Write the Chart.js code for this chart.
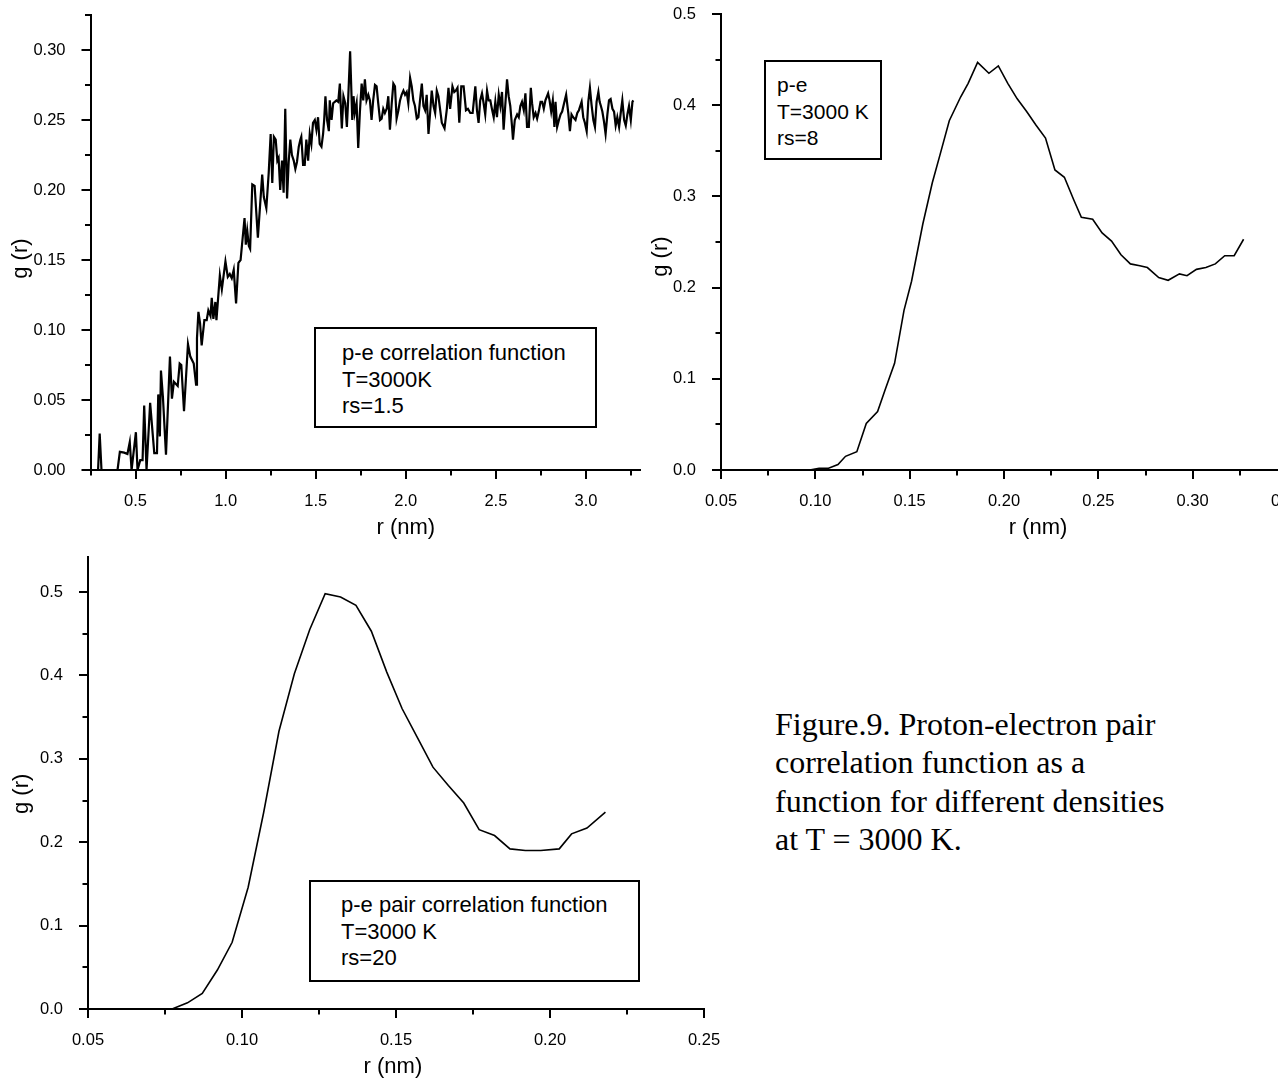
<!DOCTYPE html>
<html>
<head>
<meta charset="utf-8">
<title>p-e pair correlation function</title>
<script src="https://cdn.jsdelivr.net/npm/chart.js@4.4.1/dist/chart.umd.min.js"></script>
<style>
  html, body { margin: 0; padding: 0; background: #fff; }
  #page { position: relative; width: 1278px; height: 1078px; overflow: hidden; background: #fff; }
  canvas { position: absolute; }
  .note {
    position: absolute; box-sizing: border-box; border: 2px solid #000; background: #fff;
    font-family: "Liberation Sans", Arial, sans-serif; font-size: 22px; line-height: 26.5px;
    color: #000; white-space: nowrap;
  }
  #caption {
    position: absolute; left: 775px; top: 705px;
    font-family: "Liberation Serif", "Times New Roman", serif; font-size: 32px; line-height: 38.3px;
    color: #000; white-space: nowrap;
  }
</style>
</head>
<body>
<div id="page">
  <canvas id="plot-rs15" width="660" height="550" style="left:0;top:0"></canvas>
  <canvas id="plot-rs8" width="680" height="550" style="left:640px;top:0"></canvas>
  <canvas id="plot-rs20" width="740" height="538" style="left:0;top:540px"></canvas>

  <div class="note" style="left:314px;top:327px;width:283px;height:101px;padding:11px 0 0 26px">p-e correlation function<br>T=3000K<br>rs=1.5</div>
  <div class="note" style="left:764px;top:60px;width:118px;height:100px;padding:10px 0 0 11px;font-size:21px">p-e<br>T=3000 K<br>rs=8</div>
  <div class="note" style="left:309px;top:880px;width:331px;height:102px;padding:10px 0 0 30px">p-e pair correlation function<br>T=3000 K<br>rs=20</div>

  <div id="caption">Figure.9. Proton-electron pair<br>correlation function as a<br>function for different densities<br>at T = 3000 K.</div>
</div>

<script>
// rs = 1.5 : r (nm) and g(r)
const r15 = [
  0.250, 0.292, 0.301, 0.311, 0.400, 0.413, 0.437, 0.455, 0.468, 0.478,
  0.502, 0.511, 0.526, 0.539, 0.548, 0.561, 0.581, 0.604, 0.619, 0.626,
  0.635, 0.641, 0.652, 0.669, 0.691, 0.702, 0.713, 0.734, 0.745, 0.754,
  0.769, 0.791, 0.804, 0.823, 0.836, 0.841, 0.849, 0.858, 0.867, 0.882,
  0.895, 0.904, 0.916, 0.923, 0.932, 0.943, 0.949, 0.968, 0.979, 0.999,
  1.012, 1.023, 1.034, 1.045, 1.058, 1.071, 1.083, 1.105, 1.112, 1.120,
  1.129, 1.136, 1.148, 1.161, 1.179, 1.203, 1.212, 1.226,
  1.239, 1.250, 1.259, 1.268, 1.278, 1.287, 1.294, 1.303, 1.313, 1.322,
  1.331, 1.341, 1.350, 1.359, 1.368, 1.378, 1.387, 1.396, 1.406, 1.415,
  1.420, 1.430, 1.439, 1.448, 1.458, 1.467, 1.476, 1.485, 1.495, 1.504,
  1.513, 1.522, 1.532, 1.541, 1.547, 1.554, 1.563, 1.573, 1.578, 1.588,
  1.597, 1.606, 1.615, 1.625, 1.634, 1.639, 1.645, 1.654, 1.664, 1.673,
  1.680, 1.691, 1.703, 1.710, 1.717, 1.727, 1.736, 1.745, 1.755, 1.764,
  1.773, 1.782, 1.792, 1.801, 1.810, 1.819, 1.829, 1.838, 1.847, 1.857,
  1.866, 1.875, 1.884, 1.894, 1.903, 1.912, 1.922, 1.931, 1.940, 1.949,
  1.959, 1.968, 1.977, 1.987, 1.996, 2.005, 2.014, 2.024, 2.033, 2.042,
  2.051, 2.061, 2.070, 2.079, 2.089, 2.098, 2.107, 2.116, 2.126, 2.135,
  2.144, 2.154, 2.163, 2.172, 2.181, 2.191,
  2.200, 2.215, 2.228, 2.237, 2.246, 2.259, 2.269, 2.278, 2.287, 2.297,
  2.308, 2.321, 2.334, 2.345, 2.358, 2.371, 2.386, 2.395, 2.404, 2.413,
  2.423, 2.432, 2.441, 2.451, 2.460, 2.469, 2.478, 2.488, 2.497, 2.506,
  2.516, 2.525, 2.534, 2.543, 2.553, 2.562, 2.571, 2.580, 2.590, 2.595,
  2.605, 2.618, 2.627, 2.636, 2.645, 2.655, 2.664, 2.673, 2.683, 2.694,
  2.701, 2.710, 2.720, 2.729, 2.738, 2.748, 2.757, 2.766, 2.775, 2.790,
  2.798, 2.807, 2.816, 2.825, 2.831, 2.840, 2.850, 2.859, 2.868, 2.877,
  2.890, 2.902, 2.911, 2.920, 2.929, 2.942, 2.952, 2.961, 2.976, 2.985,
  2.994, 3.004, 3.013, 3.022, 3.031, 3.041, 3.050, 3.059, 3.069, 3.076,
  3.083, 3.091, 3.100, 3.109, 3.119, 3.128, 3.137, 3.147, 3.156, 3.165,
  3.174, 3.184, 3.193, 3.202, 3.212, 3.221, 3.230, 3.239, 3.249, 3.258,
  3.263
];
const g15 = [
  0, 0, 0.026, 0, 0, 0.013, 0.0124, 0.0114, 0.020, 0,
  0.027, 0, 0.007, 0.007, 0.046, 0, 0.048, 0.012, 0.012, 0.054,
  0.024, 0.071, 0.052, 0.011, 0.081, 0.051, 0.063, 0.060, 0.076, 0.075,
  0.042, 0.090, 0.081, 0.076, 0.061, 0.094, 0.113, 0.105, 0.089, 0.107,
  0.107, 0.114, 0.110, 0.123, 0.108, 0.120, 0.107, 0.139, 0.129, 0.149,
  0.138, 0.140, 0.137, 0.143, 0.119, 0.148, 0.150, 0.180, 0.161, 0.171,
  0.160, 0.158, 0.204, 0.203, 0.166, 0.211, 0.195, 0.187,
  0.212, 0.240, 0.205, 0.238, 0.236, 0.221, 0.223, 0.200, 0.221, 0.198,
  0.258, 0.194, 0.220, 0.236, 0.225, 0.221, 0.215, 0.220, 0.231, 0.236,
  0.238, 0.218, 0.218, 0.236, 0.221, 0.240, 0.233, 0.248, 0.250, 0.243,
  0.252, 0.233, 0.231, 0.240, 0.250, 0.267, 0.250, 0.242, 0.264, 0.250,
  0.262, 0.263, 0.264, 0.263, 0.276, 0.260, 0.244, 0.267, 0.262, 0.245,
  0.264, 0.299, 0.250, 0.267, 0.255, 0.262, 0.230, 0.255, 0.276, 0.264,
  0.279, 0.264, 0.268, 0.264, 0.250, 0.264, 0.275, 0.274, 0.262, 0.250,
  0.251, 0.258, 0.255, 0.258, 0.267, 0.243, 0.262, 0.276, 0.274, 0.251,
  0.257, 0.264, 0.268, 0.271, 0.268, 0.270, 0.262, 0.280, 0.274, 0.264,
  0.260, 0.251, 0.252, 0.264, 0.276, 0.260, 0.257, 0.268, 0.240, 0.255,
  0.271, 0.260, 0.255, 0.271, 0.267, 0.257,
  0.248, 0.244, 0.258, 0.273, 0.258, 0.274, 0.270, 0.271, 0.273, 0.248,
  0.274, 0.274, 0.257, 0.258, 0.255, 0.255, 0.274, 0.257, 0.248, 0.264,
  0.269, 0.262, 0.254, 0.271, 0.264, 0.264, 0.258, 0.252, 0.263, 0.252,
  0.268, 0.260, 0.270, 0.243, 0.262, 0.279, 0.267, 0.260, 0.245, 0.236,
  0.250, 0.254, 0.252, 0.260, 0.263, 0.257, 0.269, 0.245, 0.245, 0.273,
  0.262, 0.252, 0.255, 0.251, 0.256, 0.263, 0.263, 0.258, 0.264, 0.269,
  0.264, 0.256, 0.264, 0.245, 0.263, 0.245, 0.250, 0.254, 0.256, 0.261,
  0.268, 0.255, 0.242, 0.254, 0.252, 0.250, 0.255, 0.257, 0.263, 0.252,
  0.248, 0.242, 0.263, 0.273, 0.261, 0.250, 0.245, 0.263, 0.270, 0.263,
  0.260, 0.256, 0.249, 0.240, 0.254, 0.264, 0.265, 0.258, 0.256, 0.246,
  0.252, 0.245, 0.255, 0.264, 0.250, 0.246, 0.254, 0.260, 0.250, 0.263,
  0.264
];

// rs = 8
const r8 = [
  0.050, 0.060, 0.070, 0.080, 0.090, 0.097, 0.102, 0.107, 0.112, 0.116,
  0.122, 0.127, 0.133, 0.137, 0.142, 0.147, 0.151, 0.157, 0.162, 0.166,
  0.171, 0.177, 0.181, 0.186, 0.192, 0.197, 0.202, 0.207, 0.212, 0.217,
  0.222, 0.227, 0.232, 0.237, 0.241, 0.247, 0.252, 0.257, 0.262, 0.267,
  0.272, 0.276, 0.282, 0.287, 0.293, 0.297, 0.302, 0.307, 0.312, 0.317,
  0.322, 0.327
];
const g8 = [
  0, 0, 0, 0, 0, 0, 0.002, 0.002, 0.006, 0.015,
  0.020, 0.051, 0.064, 0.088, 0.117, 0.175, 0.207, 0.270, 0.315, 0.345,
  0.383, 0.409, 0.424, 0.447, 0.435, 0.443, 0.424, 0.407, 0.393, 0.378,
  0.364, 0.329, 0.321, 0.296, 0.277, 0.275, 0.260, 0.251, 0.236, 0.226,
  0.224, 0.222, 0.211, 0.208, 0.215, 0.213, 0.220, 0.222, 0.226, 0.235,
  0.235, 0.253
];

// rs = 20
const r20 = [
  0.050, 0.060, 0.070, 0.0773, 0.0823, 0.0871, 0.092, 0.0968, 0.102, 0.107,
  0.112, 0.117, 0.122, 0.127, 0.132, 0.137, 0.142, 0.147, 0.152, 0.157,
  0.162, 0.167, 0.172, 0.177, 0.182, 0.187, 0.192, 0.197, 0.203, 0.207,
  0.212, 0.218
];
const g20 = [
  0, 0, 0, 0, 0.0074, 0.0186, 0.0467, 0.080, 0.146, 0.235,
  0.333, 0.402, 0.455, 0.498, 0.494, 0.484, 0.453, 0.404, 0.360, 0.325,
  0.290, 0.268, 0.247, 0.215, 0.208, 0.192, 0.190, 0.190, 0.192, 0.210,
  0.217, 0.236
];

// tick positions
const ticksX15 = [0.5, 1.0, 1.5, 2.0, 2.5, 3.0];
const minorX15 = [0.25, 0.75, 1.25, 1.75, 2.25, 2.75, 3.25];
const ticksY15 = [0, 0.05, 0.10, 0.15, 0.20, 0.25, 0.30];
const minorY15 = [0.025, 0.075, 0.125, 0.175, 0.225, 0.275, 0.325];

const ticksX8 = [0.05, 0.10, 0.15, 0.20, 0.25, 0.30, 0.35];
const minorX8 = [0.075, 0.125, 0.175, 0.225, 0.275, 0.325];
const ticksY8 = [0, 0.1, 0.2, 0.3, 0.4, 0.5];
const minorY8 = [0.05, 0.15, 0.25, 0.35, 0.45];

const ticksX20 = [0.05, 0.10, 0.15, 0.20, 0.25];
const minorX20 = [0.075, 0.125, 0.175, 0.225];
const ticksY20 = [0, 0.1, 0.2, 0.3, 0.4, 0.5];
const minorY20 = [0.05, 0.15, 0.25, 0.35, 0.45];

const sansFont = '"Liberation Sans", Arial, sans-serif';

// outward tick marks (major + minor) and the axis titles
const axisDecor = {
	id: 'axisDecor',
	afterDraw(chart, args, o) {
		const ctx = chart.ctx;
		const a = chart.chartArea;
		const x = chart.scales.x, y = chart.scales.y;

		ctx.save();
		ctx.strokeStyle = '#000';
		ctx.lineWidth = 2;
		ctx.beginPath();
		const tickX = (list, len) => list.forEach(v => {
			const p = Math.round(x.getPixelForValue(v));
			ctx.moveTo(p, a.bottom);
			ctx.lineTo(p, a.bottom + len);
		});
		const tickY = (list, len) => list.forEach(v => {
			const p = Math.round(y.getPixelForValue(v));
			ctx.moveTo(a.left, p);
			ctx.lineTo(a.left - len, p);
		});
		tickX(o.xMajor, 9);
		tickX(o.xMinor, 5.5);
		tickY(o.yMajor, 9);
		tickY(o.yMinor, 5.5);
		ctx.stroke();

		ctx.fillStyle = '#000';
		ctx.font = '22px ' + sansFont;
		ctx.textAlign = 'center';
		ctx.textBaseline = 'middle';
		ctx.fillText('r (nm)', x.getPixelForValue(o.xTitleAt), a.bottom + o.xTitleGap);
		ctx.translate(a.left - o.yTitleGap, y.getPixelForValue(o.yTitleAt));
		ctx.rotate(-Math.PI / 2);
		ctx.fillText('g (r)', 0, 0);
		ctx.restore();
	}
};

function drawPlot(canvasId, s) {

	let points = s.r.map((r, i) => ({ x: r, y: s.g[i] }));

	return new Chart(document.getElementById(canvasId), {
		type: 'line',
		data: {
			datasets: [{
				data: points,
				borderColor: '#000',
				borderWidth: s.lineWidth,
				pointRadius: 0,
				tension: 0,
				fill: false
			}]
		},
		options: {
			responsive: false,
			animation: false,
			events: [],
			layout: { padding: s.padding },
			plugins: {
				legend: { display: false },
				tooltip: { enabled: false },
				axisDecor: {
					xMajor: s.xMajor, xMinor: s.xMinor, yMajor: s.yMajor, yMinor: s.yMinor,
					xTitleAt: s.xTitleAt, xTitleGap: 58, yTitleAt: s.yTitleAt, yTitleGap: s.yTitleGap
				}
			},
			scales: {
				x: {
					type: 'linear',
					min: s.xMin,
					max: s.xMax,
					grid: { display: false },
					border: { display: true, color: '#000', width: 2 },
					afterBuildTicks: scale => { scale.ticks = s.xMajor.map(v => ({ value: v })); },
					afterFit: scale => {
						scale.height = s.xAxisHeight;
						scale.paddingLeft = 0;
						scale.paddingRight = 0;
					},
					ticks: {
						color: '#000', font: { family: sansFont, size: 16.5 }, padding: 14,
						autoSkip: false, maxRotation: 0,
						callback: v => v.toFixed(s.xDigits)
					}
				},
				y: {
					type: 'linear',
					min: 0,
					max: s.yMax,
					grid: { display: false },
					border: { display: true, color: '#000', width: 2 },
					afterBuildTicks: scale => { scale.ticks = s.yMajor.map(v => ({ value: v })); },
					afterFit: scale => {
						scale.width = s.yAxisWidth;
						scale.paddingTop = 0;
						scale.paddingBottom = 0;
					},
					ticks: {
						color: '#000', font: { family: sansFont, size: 16.5 }, padding: 17,
						autoSkip: false,
						callback: v => v.toFixed(s.yDigits)
					}
				}
			}
		},
		plugins: [axisDecor]
	});

}

drawPlot('plot-rs15', {
	r: r15, g: g15, lineWidth: 2.2,
	xMin: 0.25, xMax: 3.30, yMax: 0.325,
	xMajor: ticksX15, xMinor: minorX15, yMajor: ticksY15, yMinor: minorY15,
	xDigits: 1, yDigits: 2,
	padding: { left: 0, top: 15, right: 20, bottom: 0 },
	yAxisWidth: 90.5, xAxisHeight: 80,
	xTitleAt: 2.0, yTitleAt: 0.151, yTitleGap: 69.5
});

drawPlot('plot-rs8', {
	r: r8, g: g8, lineWidth: 1.6,
	xMin: 0.05, xMax: 0.35, yMax: 0.5,
	xMajor: ticksX8, xMinor: minorX8, yMajor: ticksY8, yMinor: minorY8,
	xDigits: 2, yDigits: 1,
	padding: { left: 0, top: 14, right: 33, bottom: 0 },
	yAxisWidth: 81, xAxisHeight: 80,
	xTitleAt: 0.218, yTitleAt: 0.234, yTitleGap: 60
});

drawPlot('plot-rs20', {
	r: r20, g: g20, lineWidth: 1.6,
	xMin: 0.05, xMax: 0.25, yMax: 0.542,
	xMajor: ticksX20, xMinor: minorX20, yMajor: ticksY20, yMinor: minorY20,
	xDigits: 2, yDigits: 1,
	padding: { left: 0, top: 17, right: 36, bottom: 0 },
	yAxisWidth: 88, xAxisHeight: 69,
	xTitleAt: 0.149, yTitleAt: 0.258, yTitleGap: 66
});
</script>
</body>
</html>
